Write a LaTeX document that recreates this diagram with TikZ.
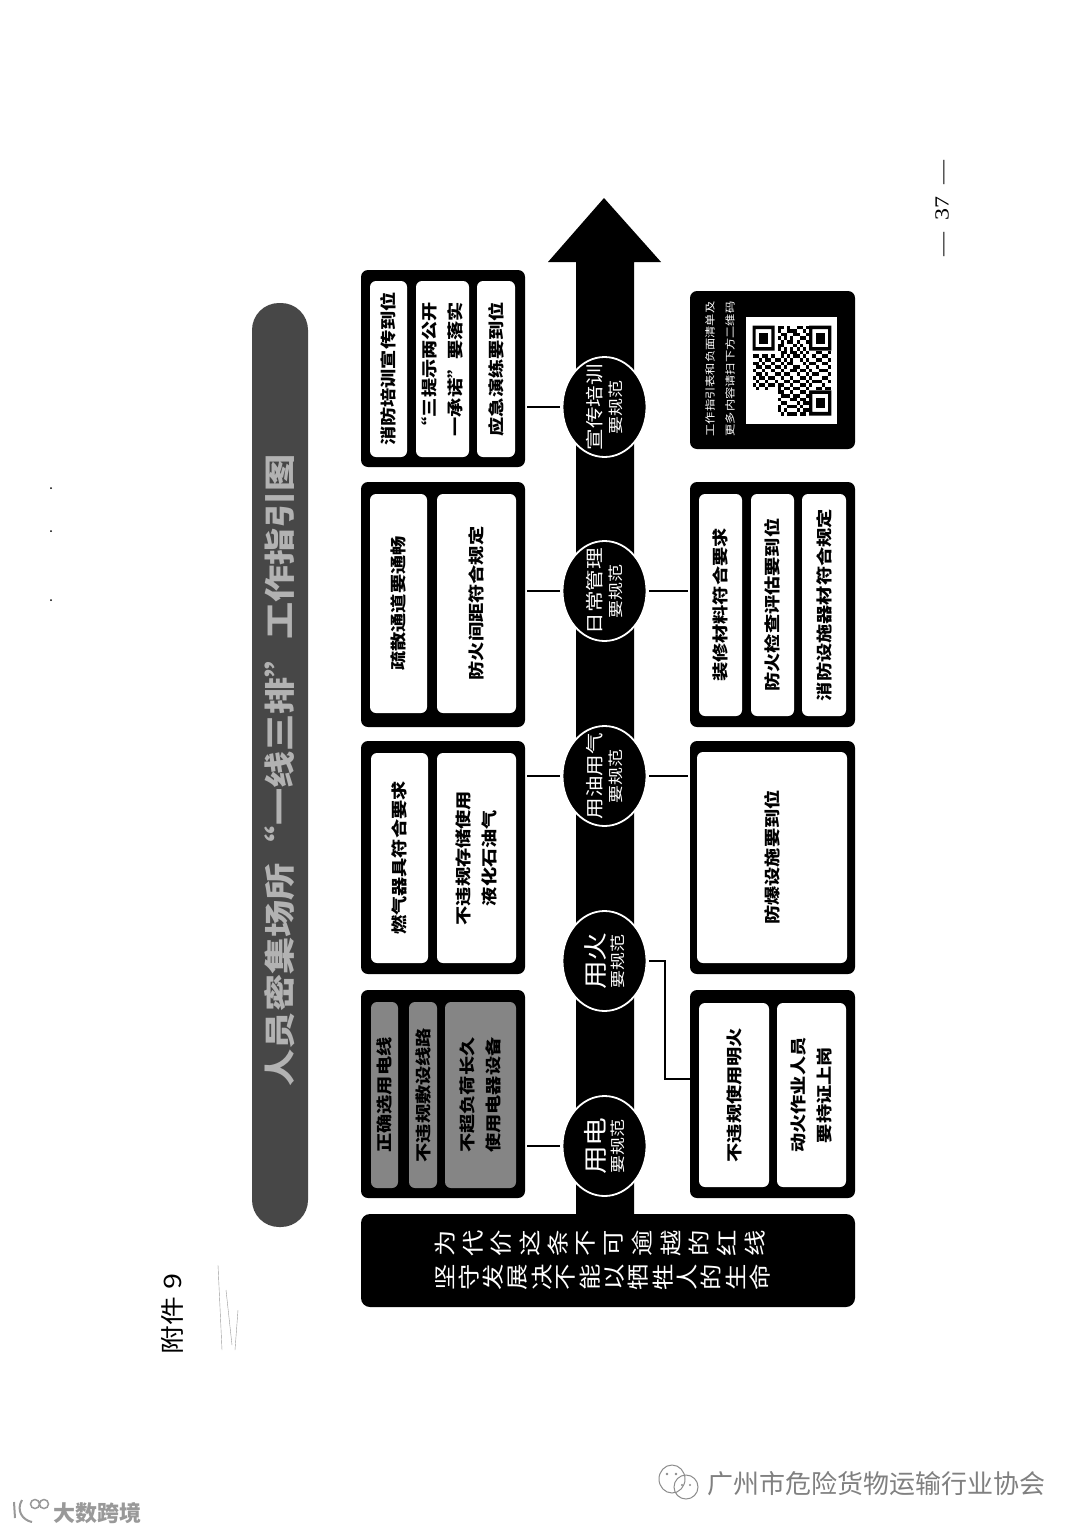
\documentclass[tikz,border=0pt]{standalone}
\usepackage{fontspec}
\setmainfont[FakeStretch=1.2]{Noto Sans CJK SC}
\newfontfamily\plainfont{Noto Sans CJK SC}
\newfontfamily\numfont[FakeStretch=1.2]{Liberation Serif}
\usetikzlibrary{shapes.geometric}
\newcommand{\fsize}[1]{\fontsize{#1}{#1}\selectfont}
\tikzset{
    outerbox/.style={fill=black, rounded corners=7, inner sep=0},
    innerbox/.style={fill=white, rounded corners=6, rotate=90, inner sep=0, align=center,
        font=\bfseries\fontsize{16}{26}\selectfont},
    graybox/.style={innerbox, fill=black!48, text=black},
    ringnode/.style={ellipse, fill=black, draw=white, line width=1.8, inner sep=0,
        minimum width=84, minimum height=100},
    ringtext/.style={rotate=90, text=white, align=center, inner sep=0},
    link/.style={line width=2.6, shorten >=2, shorten <=2},
    plaintext/.style={rotate=90, inner sep=0},
    foottext/.style={rotate=90, text=white, inner sep=0, font=\fontsize{22}{22}\selectfont},
}
\begin{document}
\begin{tikzpicture}[x=1pt, y=-1pt]
    \fill[white] (0,0) rectangle (1080,1528);
    \useasboundingbox (0,0) rectangle (1080,1528);

    % title bar
    \node[rotate=90, fill=black!72, rounded corners=27, minimum width=924, minimum height=56,
        inner sep=0] (title) at (280,765) {};
    \node[rotate=90, inner sep=0, text=black!30, font=\bfseries\fsize{31}] (titletext) at (280,770) {人员密集场所“一线三排”工作指引图};

    % main arrow
    \fill (576,1220) -- (576,262) -- (548,262) -- (604,198) -- (661,262) -- (634,262) -- (634,1220) -- cycle;

    % base
    \node[outerbox, rounded corners=9, minimum width=494, minimum height=93] (base) at (608,1260.5) {};
    \foreach \ch [count=\i, evaluate=\i as \x using 445+(\i-1)*28.2] in {为,代,价,这,条,不,可,逾,越,的,红,线}
        \node[foottext] (p\i) at (\x,1243) {\ch};
    \foreach \ch [count=\i, evaluate=\i as \x using 445+(\i-1)*24.2] in {坚,守,发,展,决,不,能,以,牺,牲,人,的,生,命}
        \node[foottext] (q\i) at (\x,1277) {\ch};

    % left column
    \node[outerbox, minimum width=164, minimum height=197] (a1) at (443,368.5) {};
    \node[innerbox, minimum width=176, minimum height=37] (a11) at (388.5,369) {消防培训宣传到位};
    \node[innerbox, minimum width=176, minimum height=53] (a12) at (442.5,369) {“三提示两公开\\一承诺”要落实};
    \node[innerbox, minimum width=176, minimum height=38] (a13) at (496,369) {应急演练要到位};

    \node[outerbox, minimum width=164, minimum height=245] (a2) at (443,604.5) {};
    \node[innerbox, minimum width=219, minimum height=57] (a21) at (398.5,603.5) {疏散通道要通畅};
    \node[innerbox, minimum width=219, minimum height=79] (a22) at (476.5,603.5) {防火间距符合规定};

    \node[outerbox, minimum width=164, minimum height=233] (a3) at (443,857.5) {};
    \node[innerbox, minimum width=210, minimum height=57] (a31) at (399.5,858) {燃气器具符合要求};
    \node[innerbox, minimum width=210, minimum height=79] (a32) at (476.5,858) {不违规存储使用\\液化石油气};

    \node[outerbox, minimum width=164, minimum height=208] (a4) at (443,1094) {};
    \node[graybox, minimum width=186, minimum height=27] (a41) at (384.5,1095) {正确选用电线};
    \node[graybox, minimum width=186, minimum height=28] (a42) at (423,1095) {不违规敷设线路};
    \node[graybox, minimum width=186, minimum height=71] (a43) at (480.5,1095) {不超负荷长久\\使用电器设备};

    % right column
    \node[outerbox, minimum width=165, minimum height=158] (b1) at (772.5,370) {};
    \node[rotate=90, text=white, inner sep=0, align=center, font=\fontsize{10.2}{20}\selectfont] (b1t) at (720,369) {工作指引表和负面清单及\\更多内容请扫下方二维码};
    \node[fill=white, minimum width=91, minimum height=107, inner sep=0] (qr) at (791,370.5) {};
    \begin{scope}[shift={(752.5,325.5)}, x=3.15pt, y=-3.6pt]
        \foreach \c/\r in {0/0, 18/0, 18/18} {
            \fill[even odd rule] (\c,\r) rectangle +(7,7) (\c+1,\r+1) rectangle +(5,5);
            \fill (\c+2,\r+2) rectangle +(3,3);
        }
        \foreach \r/\cols in {
            0/{8,9,11,14,15,17}, 1/{8,11,12,13,16}, 2/{9,10,13,14,17}, 3/{8,10,12,15,16},
            4/{9,11,12,14,17}, 5/{8,9,13,15}, 6/{8,10,12,14,16}, 7/{9,10,12,13,15,17,20,21,24},
            8/{0,1,3,4,6,9,11,13,14,16,19,22,23}, 9/{2,4,5,7,8,10,12,15,17,20,21,24},
            10/{0,1,3,6,9,11,12,16,18,19,22,23}, 11/{1,2,4,5,7,8,10,13,14,17,20,24},
            12/{0,3,6,9,12,13,15,16,18,21,22,23}, 13/{1,2,4,7,8,10,11,14,17,19,20,24},
            14/{0,2,3,5,6,9,12,15,16,18,22,23}, 15/{1,4,7,10,11,13,14,17,19,20,21,24},
            16/{0,2,3,5,6,8,9,12,15,16,18,22}, 17/{1,4,8,10,11,13,14,17,20,21,23,24},
            18/{8,9,12,15,16}, 19/{9,10,11,13,14,17}, 20/{8,12,13,15,16}, 21/{9,10,14,16,17},
            22/{8,11,12,13,15}, 23/{8,10,14,16,17}, 24/{9,11,12,13,15,16}} {
            \foreach \c in \cols
                \fill (\c,\r) rectangle +(1,1);
        }
    \end{scope}

    \node[outerbox, minimum width=165, minimum height=245] (b2) at (772.5,604.5) {};
    \node[innerbox, minimum width=222, minimum height=43] (b21) at (720.5,605) {装修材料符合要求};
    \node[innerbox, minimum width=222, minimum height=43] (b22) at (772.5,605) {防火检查评估要到位};
    \node[innerbox, minimum width=222, minimum height=44] (b23) at (824,605) {消防设施器材符合规定};

    \node[outerbox, minimum width=165, minimum height=233] (b3) at (772.5,857.5) {};
    \node[innerbox, minimum width=211, minimum height=150] (b31) at (772,857.5) {防爆设施要到位};

    \node[outerbox, minimum width=165, minimum height=208] (b4) at (772.5,1094) {};
    \node[innerbox, minimum width=184, minimum height=70] (b41) at (734,1095) {不违规使用明火};
    \node[innerbox, minimum width=184, minimum height=69] (b42) at (811.5,1095) {动火作业人员\\要持证上岗};

    % rings on the arrow
    \node[ringnode] (r1) at (604.5,1146) {};
    \node[ringnode] (r2) at (604.5,961) {};
    \node[ringnode] (r3) at (604.5,776) {};
    \node[ringnode] (r4) at (604.5,591) {};
    \node[ringnode] (r5) at (604.5,407) {};
    \node[ringtext] (r1t) at (r1) {\fontsize{24}{25}\selectfont 用电\\[4pt]\fontsize{15}{18}\selectfont 要规范};
    \node[ringtext] (r2t) at (r2) {\fontsize{24}{25}\selectfont 用火\\[4pt]\fontsize{15}{18}\selectfont 要规范};
    \node[ringtext] (r3t) at (r3) {\fontsize{18}{22}\selectfont 用油用气\\[4pt]\fontsize{15}{18}\selectfont 要规范};
    \node[ringtext] (r4t) at (r4) {\fontsize{18}{22}\selectfont 日常管理\\[4pt]\fontsize{15}{18}\selectfont 要规范};
    \node[ringtext] (r5t) at (r5) {\fontsize{18}{22}\selectfont 宣传培训\\[4pt]\fontsize{15}{18}\selectfont 要规范};

    % connectors
    \draw[link] (r1 -| a4.east) -- (r1);
    \draw[link] (r3 -| a3.east) -- (r3);
    \draw[link] (r4 -| a2.east) -- (r4);
    \draw[link] (r5 -| a1.east) -- (r5);
    \draw[link] (r3 -| b3.west) -- (r3);
    \draw[link] (r4 -| b2.west) -- (r4);
    \coordinate (k1) at (665,961);
    \coordinate (k2) at (690,1079);
    \draw[link, shorten >=0] (r2) -- (k1) |- (k2);

    % page marks
    \node[plaintext, font=\fsize{24}] (annex) at (172,1314) {附件 9};
    \node[plaintext, font=\numfont\fsize{20}] (pageno) at (942,208) {— \ 37 \ —};
    \foreach \py [count=\i] in {488,531,600}
        \fill (51,\py) circle (1);
    \draw[black!40, line width=0.4] (218,1265) -- (222,1350) (226,1290) -- (232,1345) (238,1310) -- (235,1350);

    % watermarks
    \node[inner sep=0, text=black!50, font=\plainfont\fsize{26}] (assoc) at (876,1484) {广州市危险货物运输行业协会};
    \draw[black!45, line width=1] (672,1479) ellipse (13 and 14) (686,1487) ellipse (12 and 12);
    \fill[black!45] (667,1474) circle (1.3) (676,1474) circle (1.3) (682,1485) circle (1.2) (690,1485) circle (1.2);
    \node[inner sep=0, text=black!40, font=\plainfont\bfseries\fsize{22}] (brand) at (97,1513) {大数跨境};
    \draw[black!40, line width=2] (14,1502) -- (15,1518) (22,1500) .. controls (16,1510) and (22,1520) .. (32,1522);
    \draw[black!40, line width=1.5] (35,1504) circle (4.5) (44,1504) circle (4.5);
\end{tikzpicture}
\end{document}
